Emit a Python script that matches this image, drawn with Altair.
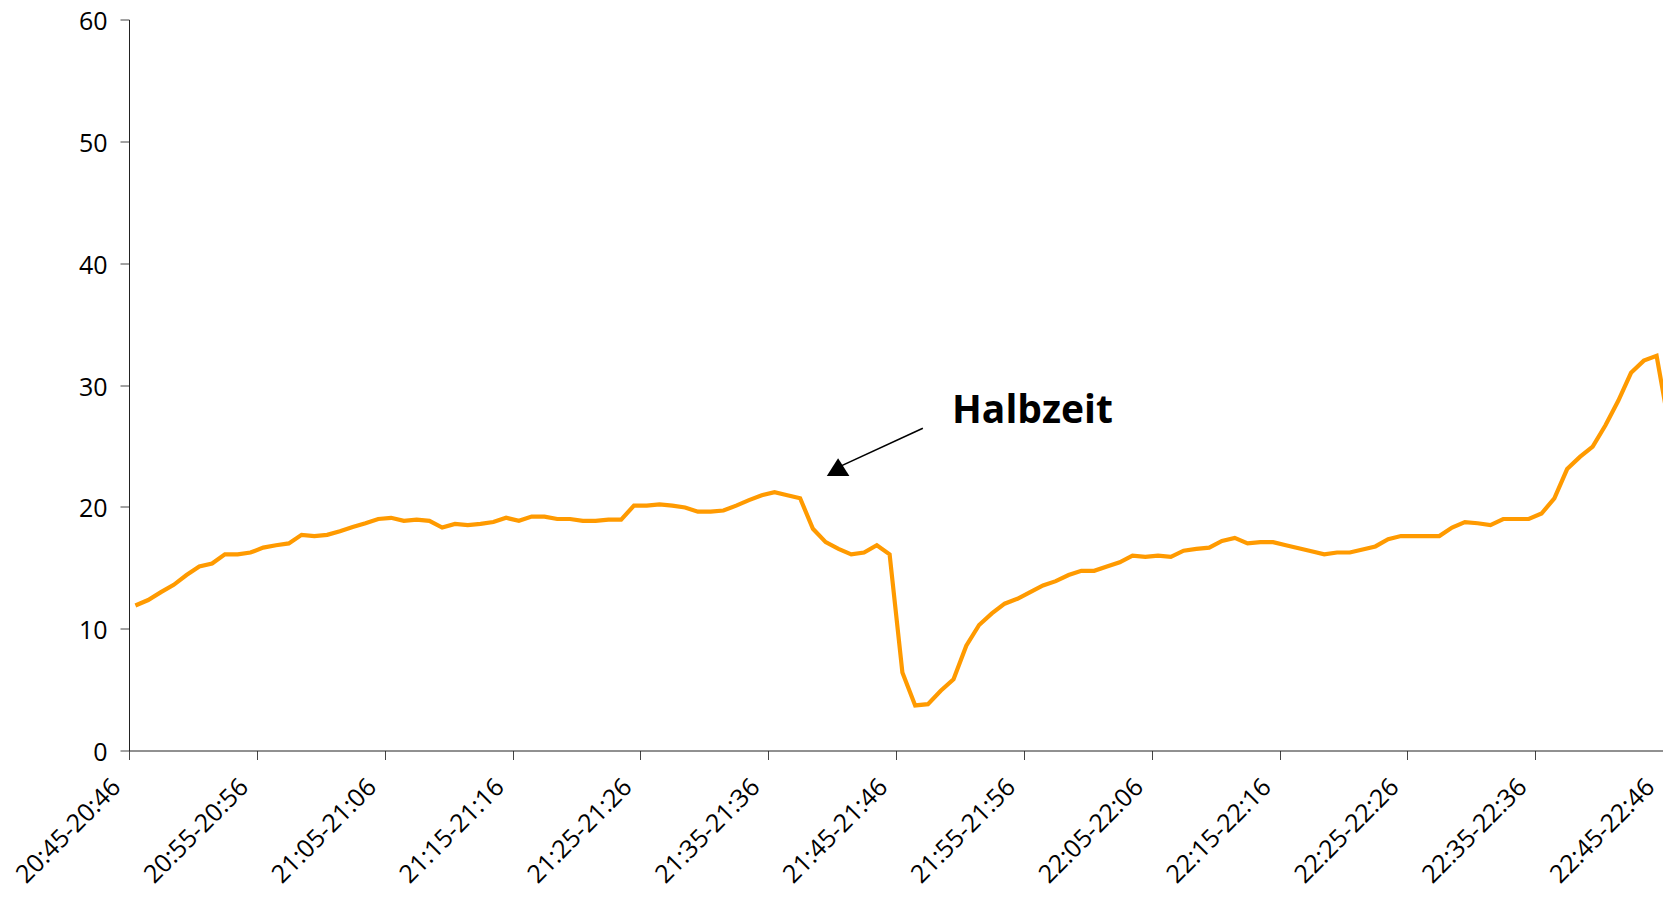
import altair as alt
import pandas as pd

# ---- data ----
start_minute = 20 * 60 + 45
n_points = 121

def fmt(m):
    return f"{m // 60:02d}:{m % 60:02d}"

categories = [f"{fmt(start_minute + k)}-{fmt(start_minute + k + 1)}" for k in range(n_points)]

values = [
    11.9, 12.35, 13.0, 13.6, 14.4, 15.1, 15.35, 16.1, 16.1, 16.25,
    16.65, 16.85, 17.0, 17.7, 17.6, 17.7, 18.0, 18.35, 18.65, 19.0,
    19.1, 18.85, 18.95, 18.85, 18.3, 18.6, 18.5, 18.6, 18.75, 19.1,
    18.85, 19.2, 19.2, 19.0, 19.0, 18.85, 18.85, 18.95, 18.95, 20.1,
    20.1, 20.2, 20.1, 19.95, 19.6, 19.6, 19.7, 20.1, 20.55, 20.95,
    21.2, 20.95, 20.7, 18.2, 17.1, 16.55, 16.1, 16.25, 16.85, 16.1,
    6.4, 3.7, 3.8, 4.9, 5.85, 8.6, 10.3, 11.25, 12.05, 12.45,
    13.0, 13.55, 13.9, 14.4, 14.75, 14.75, 15.1, 15.45, 16.0, 15.9,
    16.0, 15.9, 16.4, 16.55, 16.65, 17.2, 17.45, 17.0, 17.1, 17.1,
    16.85, 16.6, 16.35, 16.1, 16.25, 16.25, 16.5, 16.75, 17.35, 17.6,
    17.6, 17.6, 17.6, 18.3, 18.75, 18.65, 18.5, 19.0, 19.0, 19.0,
    19.45, 20.7, 23.1, 24.1, 24.95, 26.7, 28.7, 31.0, 32.0, 32.4,
    26.5,
]

tick_labels = categories[::10]
y_ticks = [0, 10, 20, 30, 40, 50, 60]
annotation_text = "Halbzeit"

# ---- tables ----
df = pd.DataFrame({
    "pos": [k + 0.5 for k in range(n_points)],
    "category": categories,
    "value": values,
})

# annotation anchor points (data units)
arrow_df = pd.DataFrame({"x": [62.1], "y": [26.45], "x2": [55.5], "y2": [23.26]})
head_df = pd.DataFrame({"x": [55.47], "y": [23.26]})
text_df = pd.DataFrame({"x": [64.38], "y": [26.88], "label": [annotation_text]})

FONT = "Open Sans"
label_expr = "[" + ",".join(f"'{t}'" for t in tick_labels) + "][round(datum.value / 10)]"

x_scale = alt.Scale(domain=[0, 120], nice=False, zero=False)
y_scale = alt.Scale(domain=[0, 60], nice=False)

x_axis = alt.Axis(
    values=list(range(0, 121, 10)),
    labelExpr=label_expr,
    labelAngle=315,
    labelAlign="right",
    labelBaseline="middle",
    labelFont=FONT,
    labelFontSize=25,
    labelColor="black",
    labelPadding=23,
    labelOffset=-13,
    labelFlush=False,
    labelOverlap=False,
    tickSize=9,
    tickColor="#444444",
    domainColor="#222222",
    grid=False,
    title=None,
)
y_axis = alt.Axis(
    values=y_ticks,
    labelFont=FONT,
    labelFontSize=25,
    labelColor="black",
    labelPadding=13,
    labelOffset=2,
    tickSize=9,
    tickColor="#444444",
    domainColor="#222222",
    grid=False,
    title=None,
)

line = alt.Chart(df).mark_line(color="#FF9A00", strokeWidth=4.2, clip=True).encode(
    x=alt.X("pos:Q", scale=x_scale, axis=x_axis),
    y=alt.Y("value:Q", scale=y_scale, axis=y_axis),
)

arrow = alt.Chart(arrow_df).mark_rule(color="black", strokeWidth=1.6).encode(
    x=alt.X("x:Q", scale=x_scale, axis=x_axis),
    y=alt.Y("y:Q", scale=y_scale, axis=y_axis),
    x2="x2:Q",
    y2="y2:Q",
)

head = alt.Chart(head_df).mark_point(
    shape="M0,-0.78L1,0.78L-1,0.78Z", filled=True, size=511, color="black", opacity=1, strokeWidth=0
).encode(
    x=alt.X("x:Q", scale=x_scale, axis=x_axis),
    y=alt.Y("y:Q", scale=y_scale, axis=y_axis),
)

text = alt.Chart(text_df).mark_text(
    align="left", baseline="alphabetic", font=FONT, fontSize=39, fontWeight="bold", color="black"
).encode(
    x=alt.X("x:Q", scale=x_scale, axis=x_axis),
    y=alt.Y("y:Q", scale=y_scale, axis=y_axis),
    text="label:N",
)

chart = alt.layer(line, arrow, head, text).properties(
    width=1534,
    height=731,
    autosize=alt.AutoSizeParams(type="none"),
    padding={"left": 121, "top": 11.5, "right": 0, "bottom": 140.5},
    background="white",
).configure_view(stroke=None)

chart.save("out.html", embed_options={"renderer": "svg", "actions": False})
